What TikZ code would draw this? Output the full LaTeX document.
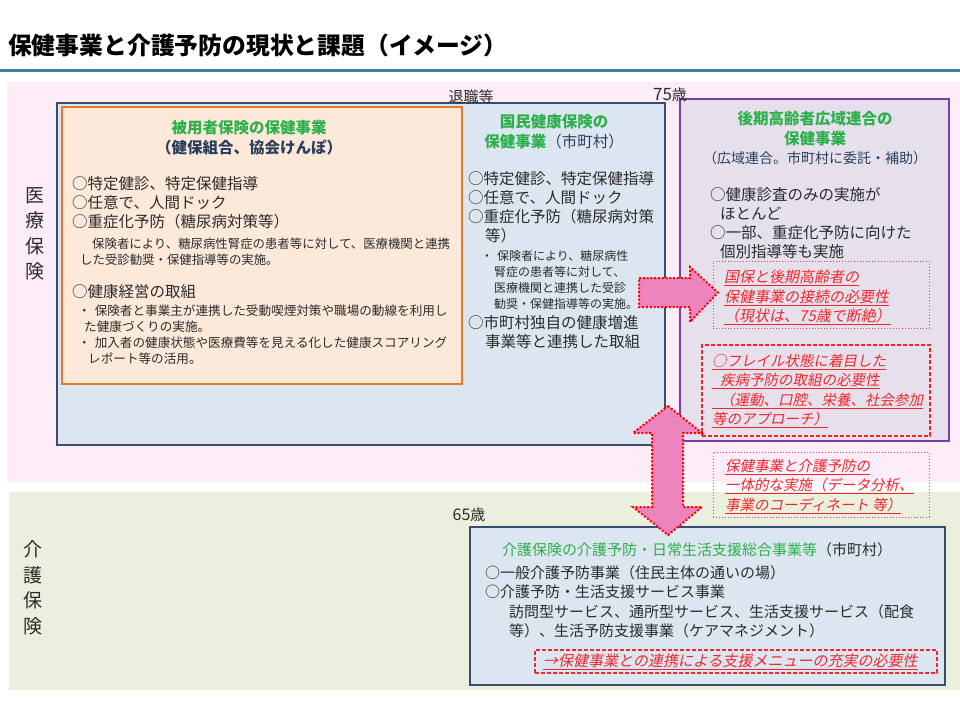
\documentclass[tikz,border=0pt]{standalone}
\usepackage{fontspec}
\setmainfont{Noto Sans CJK JP}
\newfontfamily\slantfont[FakeSlant=0.2]{Noto Sans CJK JP}

\definecolor{hdrgreen}{HTML}{2DB04B}
\definecolor{navy}{HTML}{2B3F5C}
\definecolor{ink}{HTML}{2B2B2B}
\definecolor{alertred}{HTML}{F0282D}
\definecolor{dotred}{HTML}{F04656}
\definecolor{arrowpink}{HTML}{EE84BD}
\definecolor{medbg}{HTML}{FDEDF9}
\definecolor{carebg}{HTML}{EBF0DE}
\definecolor{boxblue}{HTML}{DCE6F1}
\definecolor{boxedge}{HTML}{3A4E6B}
\definecolor{orfill}{HTML}{FDE9D9}
\definecolor{oredge}{HTML}{E8782A}
\definecolor{lavfill}{HTML}{E5E0EC}
\definecolor{puredge}{HTML}{7A3CA8}
\definecolor{rulecol}{HTML}{31849B}

\begin{document}
\begin{tikzpicture}[x=1pt, y=-1pt,
    zone/.style={rectangle, inner sep=0pt, draw=none},
    planbox/.style={rectangle, inner sep=0pt, draw=boxedge, line width=2.2pt, fill=boxblue},
    notebox/.style={rectangle, inner sep=0pt, draw=dotred, line width=1pt, dotted},
    alertbox/.style={rectangle, inner sep=0pt, draw=alertred, line width=1.4pt, dash pattern=on 4pt off 2pt},
    bigarrow/.style={fill=arrowpink, draw=red, line width=2pt, dash pattern=on 2pt off 1.8pt},
    txt/.style={anchor=north west, inner sep=0pt, align=left, text=ink, font=\fontsize{15.5}{19}\selectfont},
    smalltxt/.style={txt, font=\fontsize{12.4}{16}\selectfont},
    hdr/.style={anchor=north, inner sep=0pt, align=center, text=hdrgreen, font=\fontsize{15.5}{20}\selectfont\bfseries},
    redtxt/.style={txt, text=alertred, font=\fontsize{15}{19.5}\slantfont},
    side/.style={inner sep=0pt, align=center, text=ink, font=\fontsize{19}{25.5}\selectfont},
    tag/.style={inner sep=0pt, text=ink, font=\fontsize{15}{18}\selectfont}]

    \useasboundingbox (0,0) rectangle (960,720);
    \fill[white] (0,0) rectangle (960,720);

    % title
    \node[anchor=west, inner sep=0pt, text=black, font=\fontsize{23.8}{28}\selectfont\bfseries] (title) at (8,45) {保健事業と介護予防の現状と課題（イメージ）};
    \draw[rulecol, line width=3pt] (0,70) -- (960,70);

    % zones
    \node[zone, fill=medbg, minimum width=953pt, minimum height=400pt] (medzone) at (483.5,282) {};
    \node[zone, fill=carebg, minimum width=951pt, minimum height=198pt] (carezone) at (484.5,591) {};

    \node[side] (medlabel) at (35,234) {医\\療\\保\\険};
    \node[side] (carelabel) at (33,588) {介\\護\\保\\険};

    % boxes
    \node[planbox, minimum width=608pt, minimum height=342pt] (kokuho) at (361,274) {};
    \node[rectangle, inner sep=0pt, draw=oredge, line width=2.6pt, fill=orfill, minimum width=400pt, minimum height=277pt] (kenpo) at (262,245.5) {};
    \node[rectangle, inner sep=0pt, draw=puredge, line width=2.4pt, fill=lavfill, minimum width=269pt, minimum height=342pt] (koiki) at (814.5,270) {};
    \node[planbox, minimum width=475pt, minimum height=158pt] (sogo) at (707.5,606) {};

    \node[notebox, minimum width=216pt, minimum height=67pt] (linkbox) at (821,294.5) {};
    \node[alertbox, minimum width=228pt, minimum height=91pt] (frailbox) at (816,390.5) {};
    \node[notebox, minimum width=216pt, minimum height=65pt] (unifybox) at (821,484.5) {};
    \node[alertbox, minimum width=402pt, minimum height=23pt] (menubox) at (736,661.5) {};

    % age marks
    \node[tag] (retire) at (471,97) {退職等};
    \node[tag] (age75) at (670,95) {{\fontsize{17}{18}\selectfont 75}歳};
    \node[tag] (age65) at (469,515) {{\fontsize{16}{18}\selectfont 65}歳};

    % employees' insurance
    \node[hdr] (kenpohdr) at (249,120) {被用者保険の保健事業\\\textcolor{navy}{（健保組合、協会けんぽ）}};
    \node[txt] (kenpoitems) at (72,176) {○特定健診、特定保健指導\\○任意で、人間ドック\\○重症化予防（糖尿病対策等）};
    \node[smalltxt] (kenponote) at (80,238) {\hspace*{12pt}保険者により、糖尿病性腎症の患者等に対して、医療機関と連携\\した受診勧奨・保健指導等の実施。};
    \node[txt] (kenpomgmt) at (72,284) {○健康経営の取組};
    \node[smalltxt, font=\fontsize{12.6}{15.8}\selectfont] (kenpobullets) at (78,305) {・\hspace{4pt}保険者と事業主が連携した受動喫煙対策や職場の動線を利用し\\\hspace*{6pt}た健康づくりの実施。\\・\hspace{4pt}加入者の健康状態や医療費等を見える化した健康スコアリング\\\hspace*{10pt}レポート等の活用。};

    % national health insurance
    \node[hdr] (kokuhohdr) at (554,114) {国民健康保険の\\保健事業{\mdseries\color{navy}（市町村）}};
    \node[txt] (kokuhoitems) at (468,171) {○特定健診、特定保健指導\\○任意で、人間ドック\\○重症化予防（糖尿病対策\\\hspace*{17pt}等）};
    \node[smalltxt, font=\fontsize{12}{16}\selectfont] (kokuhonote) at (481,250) {・\hspace{4pt}保険者により、糖尿病性\\\hspace*{13pt}腎症の患者等に対して、\\\hspace*{13pt}医療機関と連携した受診\\\hspace*{13pt}勧奨・保健指導等の実施。};
    \node[txt] (kokuhoown) at (468,315) {○市町村独自の健康増進\\\hspace*{17pt}事業等と連携した取組};

    % late-stage elderly
    \node[hdr, font=\fontsize{15.5}{19.5}\selectfont\bfseries] (koikihdr) at (815,111) {後期高齢者広域連合の\\保健事業\\{\mdseries\fontsize{14}{19.5}\selectfont\color{navy}（広域連合。市町村に委託・補助）}};
    \node[txt] (koikiitems) at (710,187) {○健康診査のみの実施が\\\hspace*{10pt}ほとんど\\○一部、重症化予防に向けた\\\hspace*{10pt}個別指導等も実施};

    \node[redtxt] (linknote) at (724,270) {\underline{国保と後期高齢者の}\\\underline{保健事業の接続の必要性}\\\underline{（現状は、75歳で断絶）}};
    \node[redtxt, font=\fontsize{14.5}{19.3}\slantfont] (frailnote) at (712,354) {\underline{○フレイル状態に着目した}\\\underline{\hspace*{8pt}疾病予防の取組の必要性}\\\underline{\hspace*{8pt}（運動、口腔、栄養、社会参加}\\\underline{等のアプローチ）}};
    \node[redtxt, font=\fontsize{14.5}{19.5}\slantfont] (unifynote) at (725,459) {\underline{保健事業と介護予防の}\\\underline{一体的な実施（データ分析、}\\\underline{事業のコーディネート 等）}};

    % long-term care
    \node[txt, font=\fontsize{15}{19}\selectfont] (sogohdr) at (502,542.5) {\textcolor{hdrgreen}{介護保険の介護予防・日常生活支援総合事業等}（市町村）};
    \node[txt, font=\fontsize{15}{19.3}\selectfont] (sogoitems) at (485,565.5) {○一般介護予防事業（住民主体の通いの場）\\○介護予防・生活支援サービス事業\\\hspace*{24pt}訪問型サービス、通所型サービス、生活支援サービス（配食\\\hspace*{24pt}等）、生活予防支援事業（ケアマネジメント）};
    \node[redtxt, anchor=west, font=\fontsize{15}{19}\slantfont] (menunote) at (543,662) {\underline{→保健事業との連携による支援メニューの充実の必要性}};

    % block arrows
    \draw[bigarrow] (639,278) -- (690,278) -- (690,267) -- (718,292.5) -- (690,322) -- (690,307) -- (639,307) -- cycle;
    \draw[bigarrow] (668,406) -- (702,433) -- (683,433) -- (683,507) -- (702,507) -- (668,535) -- (633,507) -- (652,507) -- (652,433) -- (633,433) -- cycle;

\end{tikzpicture}
\end{document}
